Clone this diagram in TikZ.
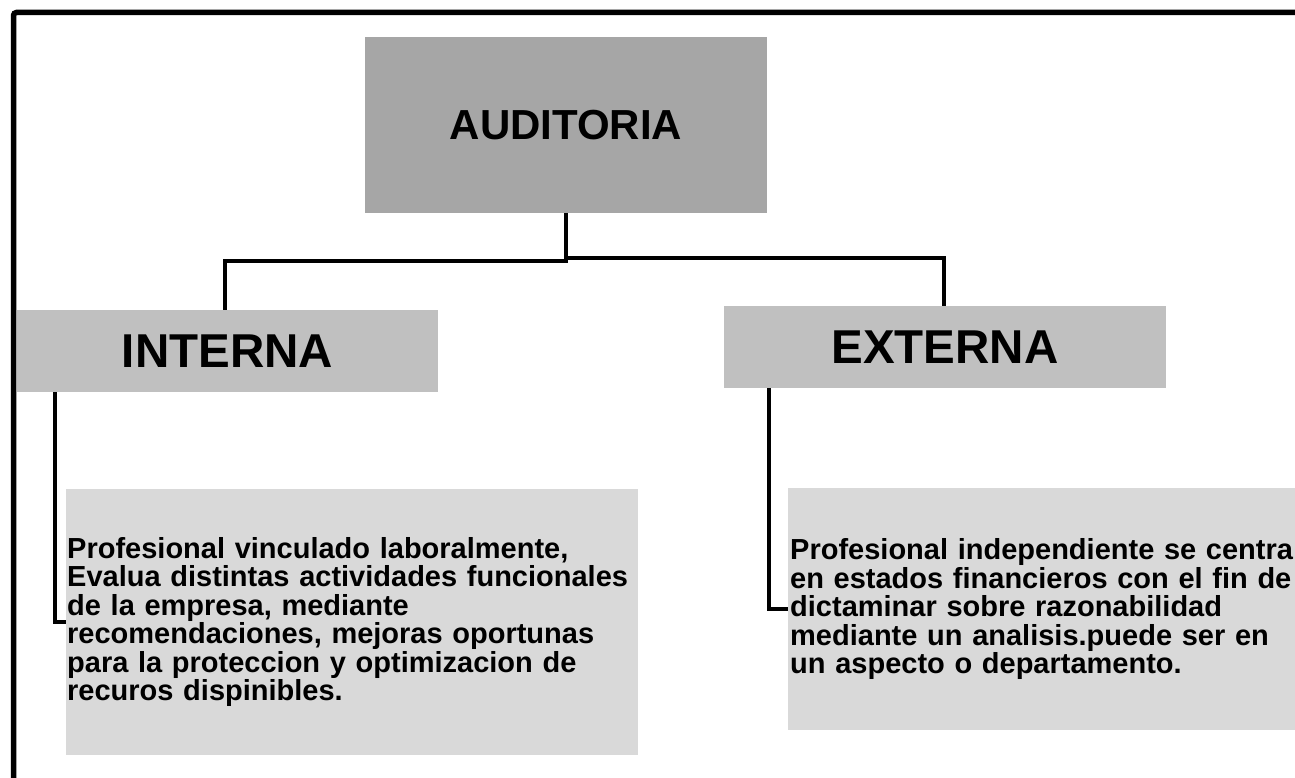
\documentclass[tikz,border=0pt]{standalone}
\usepackage{fontspec}
\setmainfont{Liberation Sans}
\definecolor{audgrey}{HTML}{A6A6A6}
\definecolor{midgrey}{HTML}{C0C0C0}
\definecolor{lightgrey}{HTML}{D9D9D9}
\tikzset{
  audbox/.style={rectangle, fill=audgrey, inner sep=0pt, minimum width=402pt, minimum height=176pt,
    font=\fontsize{42}{42}\selectfont\bfseries},
  kindbox/.style={rectangle, fill=midgrey, inner sep=0pt, minimum height=82pt,
    font=\fontsize{47.5}{47.5}\selectfont\bfseries},
  descbox/.style={rectangle, fill=lightgrey, inner ysep=0pt, align=left,
    font=\fontsize{29}{28.5}\selectfont\bfseries},
  link/.style={line width=3.5pt},
  frame/.style={line width=5.5pt, rounded corners=3pt}
}
\begin{document}
\begin{tikzpicture}[x=1pt,y=1pt]
\useasboundingbox (0,0) rectangle (1295,-778);
\fill[white] (0,0) rectangle (1295,-778);
\draw[frame] (13.5,-12.5) rectangle (1330,-820);

\node[audbox] (aud) at (566,-125) {AUDITORIA};
\node[kindbox, minimum width=421pt] (int) at (227.5,-351) {INTERNA};
\node[kindbox, minimum width=442pt] (ext) at (945,-347) {EXTERNA};

\node[descbox, minimum height=266pt, text width=570pt, inner xsep=1pt, anchor=west] (intbox) at (66,-622)
  {Profesional vinculado laboralmente,\\
   Evalua distintas actividades funcionales\\
   de la empresa, mediante\\
   recomendaciones, mejoras oportunas\\
   para la proteccion y optimizacion de\\
   recuros dispinibles.};
\node[descbox, minimum height=242pt, text width=540pt, inner xsep=2pt, anchor=west] (extbox) at (788,-609)
  {Profesional independiente se centra\\
   en estados financieros con el fin de\\
   dictaminar sobre razonabilidad\\
   mediante un analisis.puede ser en\\
   un aspecto o departamento.};

\draw[link] (aud.south) -- ++(0,-48) -| ([xshift=-2.5pt]int.north);
\draw[link] (aud.south) ++(0,-45) -| ([xshift=-1pt]ext.north);
\draw[link] (int.south west) ++(38,0) |- (intbox.west);
\draw[link] (ext.south west) ++(45,0) |- (extbox.west);
\end{tikzpicture}
\end{document}
